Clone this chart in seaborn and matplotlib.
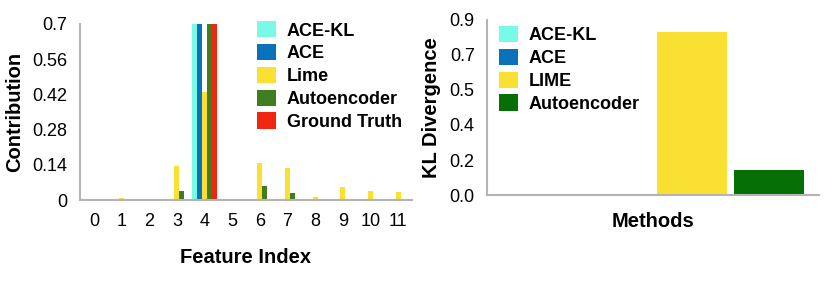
import numpy as np
import pandas as pd
import matplotlib
matplotlib.use('Agg')
import matplotlib.pyplot as plt
import seaborn as sns

# 数据
features = list(range(12))
methods_left = ['ACE-KL', 'ACE', 'Lime', 'Autoencoder', 'Ground Truth']
ace_kl = [0, 0, 0, 0, 0.7, 0, 0, 0, 0, 0, 0, 0]
ace = [0, 0, 0, 0, 0.7, 0, 0, 0, 0, 0, 0, 0]
lime = [0.003, 0.007, 0, 0.137, 0.43, 0, 0.146, 0.127, 0.013, 0.05, 0.036, 0.031]
autoencoder = [0, 0, 0, 0.036, 0.7, 0, 0.055, 0.027, 0, 0, 0, 0]
ground_truth = [0, 0, 0, 0, 0.7, 0, 0, 0, 0, 0, 0, 0]
colors_left = ['#78FAE6', '#0A72BA', '#F9E032', '#3F7D1F', '#F0260F']

methods_right = ['ACE-KL', 'ACE', 'LIME', 'Autoencoder']
kl_values = [0.0, 0.0, 0.84, 0.129]
colors_right = ['#78FAE6', '#0A72BA', '#F9E032', '#067006']

left_ticks = [0, 0.14, 0.28, 0.42, 0.56, 0.7]
left_ticklabels = ['0', '0.14', '0.28', '0.42', '0.56', '0.7']
right_ticks = [0, 0.18, 0.36, 0.54, 0.72, 0.9]

sns.set_theme(style='white')
plt.rcParams['font.family'] = ['Liberation Sans', 'DejaVu Sans']
plt.rcParams['text.color'] = 'black'
plt.rcParams['axes.labelcolor'] = 'black'

df_left = pd.DataFrame({
    'Feature': features * 5,
    'Method': [m for m in methods_left for _ in features],
    'Contribution': ace_kl + ace + lime + autoencoder + ground_truth,
})
df_right = pd.DataFrame({
    'x': ['Methods'] * 4,
    'Method': methods_right,
    'KL': kl_values,
})

fig = plt.figure(figsize=(8.3, 2.81), dpi=100)
ax1 = fig.add_axes([0.0964, 0.288, 0.4, 0.627])
ax2 = fig.add_axes([0.587, 0.306, 0.4, 0.623])

sns.barplot(data=df_left, x='Feature', y='Contribution', hue='Method',
            hue_order=methods_left, palette=colors_left, width=0.9,
            saturation=1, linewidth=0, ax=ax1)
ax1.set_xlim(-0.5, 11.5)
ax1.set_ylim(0, 0.7)
ax1.set_yticks(left_ticks)
ax1.set_yticklabels(left_ticklabels)
ax1.set_xlabel('Feature Index', fontsize=14.5, fontweight='bold', labelpad=13)
ax1.set_ylabel('Contribution', fontsize=14.5, fontweight='bold', labelpad=6)

sns.barplot(data=df_right, x='x', y='KL', hue='Method',
            hue_order=methods_right, palette=colors_right, width=0.93,
            gap=0.1, saturation=1, linewidth=0, ax=ax2)
ax2.set_xlim(-0.5, 0.5)
ax2.set_ylim(0, 0.9)
ax2.set_yticks(right_ticks)
ax2.set_yticklabels([f'{t:.1f}' for t in right_ticks])
ax2.set_xticks([])
ax2.set_xlabel('Methods', fontsize=14.5, fontweight='bold', labelpad=12)
ax2.set_ylabel('KL Divergence', fontsize=14.5, fontweight='bold', labelpad=6)

for ax in (ax1, ax2):
    for side in ('top', 'right'):
        ax.spines[side].set_visible(False)
    for side in ('left', 'bottom'):
        ax.spines[side].set_color('#b4b4b4')
        ax.spines[side].set_linewidth(1.5)
    ax.tick_params(axis='both', length=0, labelsize=13, colors='black', pad=9)

leg_kw = dict(loc='upper left', frameon=False, handlelength=1.05,
              handleheight=1.0, labelspacing=0.25, handletextpad=0.6,
              borderpad=0, borderaxespad=0, labelcolor='black',
              prop={'weight': 'bold', 'size': 13})
ax1.legend(bbox_to_anchor=(0.533, 1.015), **leg_kw)
ax2.legend(bbox_to_anchor=(0.036, 0.965), **leg_kw)

fig.savefig('out.png', dpi=100)
